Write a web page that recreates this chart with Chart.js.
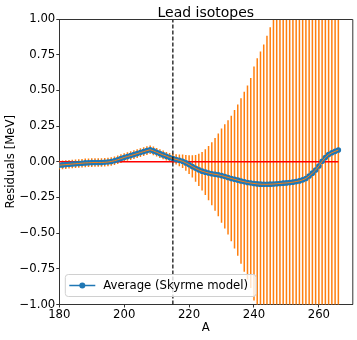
<!DOCTYPE html>
<html>
<head>
<meta charset="utf-8">
<script src="https://cdn.jsdelivr.net/npm/chart.js@4.4.1/dist/chart.umd.min.js"></script>
<style>
  html, body { margin: 0; padding: 0; background: #fff; }
  canvas { display: block; }
</style>
</head>
<body>
<canvas id="residuos" width="357" height="340"></canvas>
<script>
// mass numbers A
const masas = [180,181,182,183,184,185,186,187,188,189,190,191,192,193,194,195,196,197,198,199,
  200,201,202,203,204,205,206,207,208,209,210,211,212,213,214,215,216,217,218,219,
  220,221,222,223,224,225,226,227,228,229,230,231,232,233,234,235,236,237,238,239,
  240,241,242,243,244,245,246,247,248,249,250,251,252,253,254,255,256,257,258,259,
  260,261,262,263,264,265,266];
// average residuals [MeV]
const residuos = [-0.024,-0.022,-0.020,-0.018,-0.016,-0.014,-0.012,-0.010,-0.008,-0.007,
  -0.006,-0.005,-0.005,-0.005,-0.004,-0.002,0.002,0.007,0.014,0.022,
  0.030,0.037,0.043,0.050,0.057,0.064,0.071,0.078,0.084,0.076,
  0.066,0.057,0.048,0.039,0.030,0.023,0.016,0.010,0.003,-0.008,
  -0.020,-0.033,-0.046,-0.057,-0.066,-0.073,-0.079,-0.084,-0.088,-0.092,
  -0.097,-0.103,-0.110,-0.117,-0.123,-0.129,-0.135,-0.140,-0.145,-0.149,
  -0.152,-0.155,-0.157,-0.158,-0.158,-0.157,-0.156,-0.154,-0.152,-0.150,
  -0.148,-0.146,-0.143,-0.139,-0.134,-0.127,-0.117,-0.100,-0.080,-0.058,
  -0.030,0.003,0.030,0.050,0.063,0.073,0.082];
// error bar half-widths [MeV]
const errores = [0.031,0.031,0.030,0.030,0.030,0.030,0.030,0.030,0.030,0.030,
  0.030,0.030,0.030,0.030,0.030,0.030,0.030,0.030,0.030,0.030,
  0.030,0.030,0.030,0.030,0.030,0.030,0.030,0.030,0.030,0.030,
  0.030,0.030,0.030,0.030,0.031,0.033,0.036,0.041,0.047,0.055,
  0.065,0.078,0.094,0.113,0.135,0.160,0.190,0.220,0.255,0.290,
  0.330,0.365,0.400,0.440,0.485,0.530,0.580,0.630,0.680,0.735,
  0.820,0.880,0.930,0.980,1.040,1.100,1.250,1.330,1.410,1.500,
  1.600,1.700,1.800,1.900,2.000,2.100,2.200,2.300,2.400,2.500,
  2.600,2.700,2.800,2.900,3.000,3.100,3.200];
// red reference line and dashed marker
const lineaCeroX = [180, 266];
const lineaCeroY = [0, 0];
const corteX = 215;
const xTicks = [180, 200, 220, 240, 260];
const yTicks = [-1, -0.75, -0.5, -0.25, 0, 0.25, 0.5, 0.75, 1];

const fuente = "'DejaVu Sans', sans-serif";
const azul = '#1f77b4';
const naranja = '#ff7f0e';

const puntos = masas.map(function(a, i) { return {x: a, y: residuos[i]}; });

const barrasError = {
  id: 'barrasError',
  beforeDatasetsDraw: function(chart) {
    const ctx = chart.ctx, xs = chart.scales.x, ys = chart.scales.y, area = chart.chartArea;
    ctx.save();
    ctx.beginPath();
    ctx.rect(area.left, area.top, area.right - area.left, area.bottom - area.top);
    ctx.clip();
    ctx.strokeStyle = naranja;
    ctx.lineWidth = 1.5;
    masas.forEach(function(a, i) {
      const px = xs.getPixelForValue(a);
      ctx.beginPath();
      ctx.moveTo(px, ys.getPixelForValue(residuos[i] + errores[i]));
      ctx.lineTo(px, ys.getPixelForValue(residuos[i] - errores[i]));
      ctx.stroke();
    });
    ctx.restore();
  },
  afterDraw: function(chart) {
    const ctx = chart.ctx, area = chart.chartArea;
    ctx.save();
    // top and right spines
    ctx.strokeStyle = '#333';
    ctx.lineWidth = 1;
    ctx.beginPath();
    ctx.moveTo(area.left, area.top + 0.5);
    ctx.lineTo(area.right + 0.5, area.top + 0.5);
    ctx.lineTo(area.right + 0.5, area.bottom);
    ctx.stroke();
    // title
    ctx.fillStyle = '#000';
    ctx.font = '14px ' + fuente;
    ctx.textAlign = 'center';
    ctx.textBaseline = 'alphabetic';
    ctx.fillText('Lead isotopes', (area.left + area.right) / 2, area.top - 2.5);
    // legend
    const texto = 'Average (Skyrme model)';
    ctx.font = '11.7px ' + fuente;
    const ancho = ctx.measureText(texto).width;
    const lx = area.left + 6, ly = area.bottom - 30, lw = ancho + 46, lh = 22;
    ctx.beginPath();
    ctx.roundRect(lx, ly, lw, lh, 3);
    ctx.fillStyle = 'rgba(255,255,255,0.8)';
    ctx.fill();
    ctx.strokeStyle = '#d0d0d0';
    ctx.lineWidth = 1;
    ctx.stroke();
    const cy = ly + lh / 2;
    ctx.strokeStyle = azul;
    ctx.lineWidth = 1.5;
    ctx.beginPath();
    ctx.moveTo(lx + 4, cy);
    ctx.lineTo(lx + 30, cy);
    ctx.stroke();
    ctx.fillStyle = azul;
    ctx.beginPath();
    ctx.arc(lx + 17, cy, 3, 0, Math.PI * 2);
    ctx.fill();
    ctx.fillStyle = '#000';
    ctx.textAlign = 'left';
    ctx.textBaseline = 'middle';
    ctx.fillText(texto, lx + 38, cy + 0.5);
    ctx.restore();
  }
};

const conf = {
  type: 'line',
  data: {
    datasets: [
      {
        label: 'corte',
        data: [{x: corteX, y: -1}, {x: corteX, y: 1}],
        borderColor: '#000',
        borderWidth: 1.2,
        borderDash: [4, 2],
        pointRadius: 0,
        order: 0
      },
      {
        label: 'linea',
        data: puntos,
        borderColor: naranja,
        borderWidth: 1,
        pointRadius: 0,
        order: 1
      },
      {
        label: 'Average (Skyrme model)',
        data: puntos,
        borderColor: azul,
        backgroundColor: azul,
        borderWidth: 1.5,
        pointRadius: 2.8,
        pointBorderWidth: 0,
        pointBackgroundColor: azul,
        order: 2
      },
      {
        label: 'cero',
        data: lineaCeroX.map(function(x, i) { return {x: x, y: lineaCeroY[i]}; }),
        borderColor: '#ff0000',
        borderWidth: 1.5,
        pointRadius: 0,
        order: 3
      }
    ]
  },
  options: {
    responsive: false,
    animation: false,
    layout: { padding: { top: 19, right: 4.7, left: 0, bottom: 0 } },
    plugins: {
      legend: { display: false },
      tooltip: { enabled: false },
      title: { display: false }
    },
    elements: { line: { tension: 0 } },
    scales: {
      x: {
        type: 'linear',
        min: 180,
        max: 270.3,
        afterBuildTicks: function(scale) {
          scale.ticks = xTicks.map(function(v) { return {value: v}; });
        },
        afterFit: function(scale) { scale.height = 35.5; },
        grid: { drawOnChartArea: false, drawTicks: true, tickLength: 3, color: '#333' },
        border: { display: true, color: '#333', width: 1 },
        ticks: {
          color: '#000',
          padding: 0,
          maxRotation: 0,
          font: { family: fuente, size: 11.7 },
          callback: function(v) { return String(v); }
        },
        title: {
          display: true,
          text: 'A',
          color: '#000',
          font: { family: fuente, size: 11.7 },
          padding: { top: 0, bottom: 5 }
        }
      },
      y: {
        type: 'linear',
        min: -1,
        max: 1,
        afterBuildTicks: function(scale) {
          scale.ticks = yTicks.map(function(v) { return {value: v}; });
        },
        afterFit: function(scale) { scale.width = 59.3; },
        grid: { drawOnChartArea: false, drawTicks: true, tickLength: 3, color: '#333' },
        border: { display: true, color: '#333', width: 1 },
        ticks: {
          color: '#000',
          padding: 1,
          font: { family: fuente, size: 11.7 },
          callback: function(v) { return v.toFixed(2).replace('-', '\u2212'); }
        },
        title: {
          display: true,
          text: 'Residuals [MeV]',
          color: '#000',
          font: { family: fuente, size: 11.7 },
          padding: { top: 3.5, bottom: 0 }
        }
      }
    }
  },
  plugins: [barrasError]
};

const grafico = new Chart(document.getElementById('residuos'), conf);
</script>
</body>
</html>
